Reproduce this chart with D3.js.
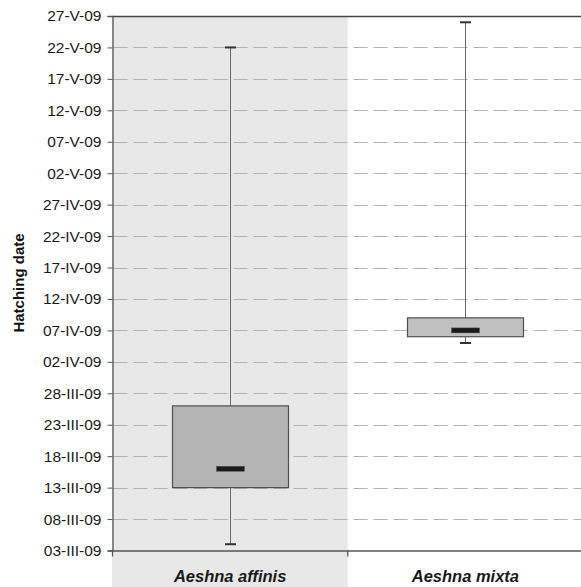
<!DOCTYPE html>
<html><head><meta charset="utf-8">
<script src="https://cdn.jsdelivr.net/npm/d3@7/dist/d3.min.js"></script>
<style>html,body{margin:0;padding:0;background:#fff;}svg{display:block;font-family:"Liberation Sans",Arial,sans-serif;}</style>
</head><body><svg id="c" width="581" height="587"></svg>
<script>
const categories = ["Aeshna affinis", "Aeshna mixta"];
const minDates    = ["2009-03-04", "2009-04-05"];
const q1Dates     = ["2009-03-13", "2009-04-06"];
const medianDates = ["2009-03-16", "2009-04-07"];
const q3Dates     = ["2009-03-26", "2009-04-09"];
const maxDates    = ["2009-05-22", "2009-05-26"];
const tickLabels = ["03-III-09","08-III-09","13-III-09","18-III-09","23-III-09","28-III-09",
  "02-IV-09","07-IV-09","12-IV-09","17-IV-09","22-IV-09","27-IV-09",
  "02-V-09","07-V-09","12-V-09","17-V-09","22-V-09","27-V-09"];
const yTitle = "Hatching date";

const roman = {I:1,II:2,III:3,IV:4,V:5,VI:6,VII:7,VIII:8,IX:9,X:10,XI:11,XII:12};
const parseLabel = s => { const [d,m,y] = s.split("-"); return new Date(Date.UTC(2000+ +y, roman[m]-1, +d)); };
const parseISO = d3.utcParse("%Y-%m-%d");
const tickDates = tickLabels.map(parseLabel);

const svg = d3.select("#c");
const L = 112.5, R = 583, T = 16, B = 550.5;

const y = d3.scaleUtc().domain([tickDates[0], tickDates[tickDates.length-1]]).range([B, T]);
const x = d3.scaleBand().domain(categories).range([L, R]).paddingInner(0).paddingOuter(0);

// shaded panel for first category
svg.append("rect").attr("x", 112).attr("y", T).attr("width", x.bandwidth()+0.5).attr("height", 587-T).attr("fill", "#e8e8e8");

// gridlines
svg.append("g").selectAll("line").data(tickDates.slice(1, -1)).join("line")
  .attr("x1", L+1).attr("x2", 581).attr("y1", d => Math.round(y(d))+0.5).attr("y2", d => Math.round(y(d))+0.5)
  .attr("stroke", "#b2b2b2").attr("stroke-width", 1).attr("stroke-dasharray", "14,6");

// top border
svg.append("line").attr("x1", L).attr("x2", 581).attr("y1", T+0.5).attr("y2", T+0.5).attr("stroke", "#444").attr("stroke-width", 1.3);

// y axis
const yAxis = d3.axisLeft(y).tickValues(tickDates).tickFormat((d,i) => tickLabels[i]).tickSizeOuter(0).tickSize(5).tickPadding(6);
const gy = svg.append("g").attr("transform", `translate(${L},0)`).call(yAxis);
gy.attr("font-family", null).attr("font-size", null);
gy.select(".domain").attr("stroke", "#555").attr("stroke-width", 1.3);
gy.selectAll(".tick line").attr("stroke", "#555");
gy.selectAll(".tick text").attr("font-size", "15.5px").attr("fill", "#1a1a1a");

// x axis
const xAxis = d3.axisBottom(x).tickSize(0).tickSizeOuter(0).tickFormat("");
const gx = svg.append("g").attr("transform", `translate(0,${B})`).call(xAxis);
gx.select(".domain").attr("stroke", "#555").attr("stroke-width", 1.5);
// boundary ticks between categories
svg.append("line").attr("x1", x(categories[1])).attr("x2", x(categories[1])).attr("y1", B).attr("y2", B+6).attr("stroke", "#555").attr("stroke-width", 1.3);
svg.append("line").attr("x1", L).attr("x2", L).attr("y1", B).attr("y2", B+6).attr("stroke", "#555").attr("stroke-width", 1.3);

// category labels
svg.append("g").selectAll("text").data(categories).join("text")
  .attr("x", d => x(d) + x.bandwidth()/2).attr("y", 581.5).attr("text-anchor", "middle")
  .attr("font-size", "16.5px").attr("font-weight", "bold").attr("font-style", "italic").attr("fill", "#1a1a1a")
  .text(d => d);

// y title
svg.append("text").attr("transform", "translate(24,283) rotate(-90)").attr("text-anchor", "middle")
  .attr("font-size", "15px").attr("font-weight", "bold").attr("fill", "#111").text(yTitle);

// boxes
const boxW = 116, capW = 11, medW = 28, medH = 5;
const fills = ["#b4b4b4", "#c0c0c0"];
const g = svg.append("g");
categories.forEach((c, i) => {
  const cx = Math.round(x(c) + x.bandwidth()/2) + 0.5;
  const ymin = y(parseISO(minDates[i])), yq1 = y(parseISO(q1Dates[i])), ymed = y(parseISO(medianDates[i]));
  const yq3 = y(parseISO(q3Dates[i])), ymax = y(parseISO(maxDates[i]));
  g.append("line").attr("x1", cx).attr("x2", cx).attr("y1", ymax).attr("y2", yq3).attr("stroke", "#6a6a6a").attr("stroke-width", 1);
  g.append("line").attr("x1", cx).attr("x2", cx).attr("y1", yq1).attr("y2", ymin).attr("stroke", "#6a6a6a").attr("stroke-width", 1);
  g.append("line").attr("x1", cx-capW/2).attr("x2", cx+capW/2).attr("y1", ymax).attr("y2", ymax).attr("stroke", "#333").attr("stroke-width", 2);
  g.append("line").attr("x1", cx-capW/2).attr("x2", cx+capW/2).attr("y1", ymin).attr("y2", ymin).attr("stroke", "#333").attr("stroke-width", 2);
  g.append("rect").attr("x", cx-boxW/2).attr("y", yq3).attr("width", boxW).attr("height", yq1-yq3)
    .attr("fill", fills[i]).attr("stroke", "#505050").attr("stroke-width", 1.2);
  g.append("rect").attr("x", cx-medW/2).attr("y", ymed-medH/2).attr("width", medW).attr("height", medH)
    .attr("fill", "#1a1a1a").attr("stroke", "#555").attr("stroke-width", 0.5);
});
</script></body></html>
